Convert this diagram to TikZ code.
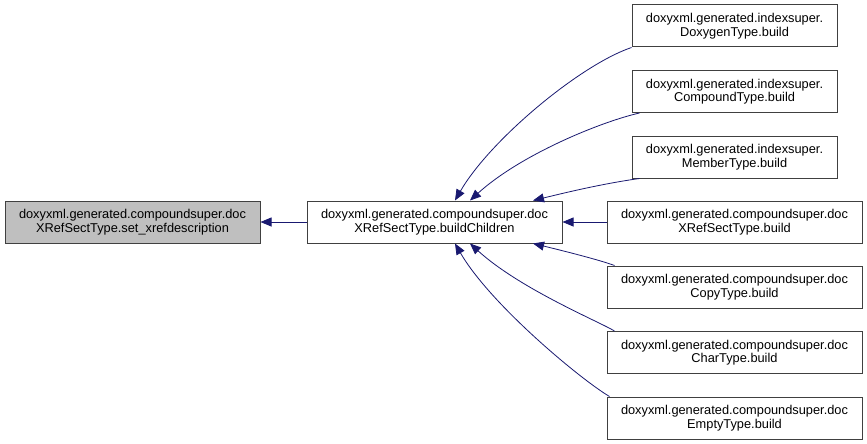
\documentclass[tikz,border=0pt]{standalone}
\usepackage{fontspec}
\setmainfont{Liberation Sans}
\usetikzlibrary{arrows.meta}
\definecolor{edgeblue}{RGB}{25,25,112}
\definecolor{frame}{RGB}{64,64,64}
\definecolor{hilite}{RGB}{191,191,191}
\tikzset{
  >={Triangle[length=11pt,width=9pt]},
  func/.style={draw=frame,fill=#1,line width=1pt,minimum height=42pt,
    minimum width=255pt,inner sep=0pt,align=center,
    font=\fontsize{12.8}{13.5}\selectfont},
  func/.default=white,
  narrow/.style={func,minimum width=205pt},
  call/.style={->,draw=edgeblue,line width=0.8pt},
}
\begin{document}
\begin{tikzpicture}[x=1pt,y=-1pt]
  \useasboundingbox (0,0) rectangle (867,444);
  % caller and callee
  \node[func=hilite] (setx) at (132.5,222) {doxyxml.generated.compoundsuper.doc\\XRefSectType.set\_xrefdescription};
  \node[func] (children) at (434.5,222) {doxyxml.generated.compoundsuper.doc\\XRefSectType.buildChildren};
  % build methods
  \node[narrow] (doxygen) at (734.5,26) {doxyxml.generated.indexsuper.\\DoxygenType.build};
  \node[narrow] (compound) at (734.5,91.5) {doxyxml.generated.indexsuper.\\CompoundType.build};
  \node[narrow] (member) at (734.5,157) {doxyxml.generated.indexsuper.\\MemberType.build};
  \node[func] (xref) at (734.5,222) {doxyxml.generated.compoundsuper.doc\\XRefSectType.build};
  \node[func] (copy) at (734.5,287) {doxyxml.generated.compoundsuper.doc\\CopyType.build};
  \node[func] (char) at (734.5,352.5) {doxyxml.generated.compoundsuper.doc\\CharType.build};
  \node[func] (empty) at (734.5,418) {doxyxml.generated.compoundsuper.doc\\EmptyType.build};
  % calls
  \draw[call] (children) -- (setx);
  \draw[call] (xref) -- (children);
  \draw[call] (doxygen.south west) .. controls (580,65) and (490,140) .. (children.north -| 455,0);
  \draw[call] ([xshift=8pt]compound.south west) .. controls (600,122) and (520,155) .. (children.north -| 470,0);
  \draw[call] ([xshift=8pt]member.south west) .. controls (600,184) and (560,194) .. (children.north -| 533,0);
  \draw[call] ([xshift=8pt]copy.north west) .. controls (600,260) and (560,250) .. (children.south -| 533,0);
  \draw[call] ([xshift=8pt]char.north west) .. controls (600,322) and (520,289) .. (children.south -| 470,0);
  \draw[call] ([xshift=3pt]empty.north west) .. controls (580,379) and (490,304) .. (children.south -| 455,0);
\end{tikzpicture}
\end{document}
